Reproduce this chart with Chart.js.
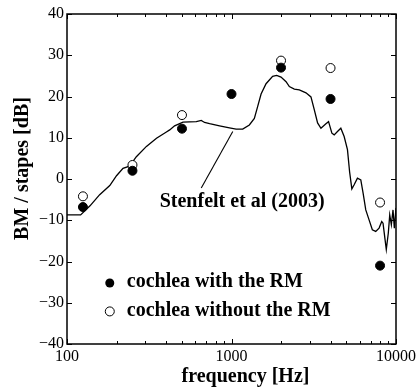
<!DOCTYPE html>
<html><head><meta charset="utf-8">
<script src="https://cdn.jsdelivr.net/npm/chart.js@4.4.0/dist/chart.umd.min.js"></script>
<style>html,body{margin:0;padding:0;background:#fff}</style>
</head><body>
<canvas id="c" width="419" height="389"></canvas>
<script>
// Stenfelt et al (2003) curve
const curveFreq = [100,121,138,158,182,200,219,235,247,264,304,350,402,421,451,507,611,655,686,736,846,972,1067,1170,1284,1377,1443,1513,1622,1778,1882,2000,2146,2247,2410,2583,2836,3041,3185,3337,3497,3750,3890,4076,4210,4408,4619,4840,5069,5225,5390,5566,5829,6110,6310,6550,6860,7180,7530,7890,8190,8340,8580,8730,8980,9160,9370,9590,9770,10000];
const curveVal = [-8.7,-8.7,-6.5,-3.8,-1.6,0.8,2.6,3.0,3.8,5.4,7.9,9.9,11.4,11.9,12.9,13.8,13.9,14.2,13.7,13.4,12.9,12.4,12.1,12.1,13.1,14.7,17.6,20.6,23.1,24.9,25.1,24.7,23.6,22.4,21.8,21.6,20.9,19.9,16.8,13.6,12.3,13.4,13.9,11.1,10.7,11.5,12.3,10.3,7.1,1.7,-2.4,-1.4,0.2,-0.2,-3.4,-7.5,-9.9,-12.3,-12.7,-11.9,-10.3,-10.7,-14.7,-17.1,-13.1,-8.7,-11.1,-7.5,-11.9,-7.0];

// measured points
const withRMFreq = [125,250,500,1000,2000,4000,8000];
const withRMVal = [-6.8,2.0,12.2,20.6,27.0,19.4,-21.0];
const withoutRMFreq = [125,250,500,2000,4000,8000];
const withoutRMVal = [-4.2,3.4,15.5,28.7,26.9,-5.7];

// labels
const legendLabels = ['cochlea with the RM','cochlea without the RM'];
const annotationText = 'Stenfelt et al (2003)';
const xTitle = 'frequency [Hz]';
const yTitle = 'BM / stapes [dB]';

// ticks
const xTickValues = [100,200,300,400,500,600,700,800,900,1000,2000,3000,4000,5000,6000,7000,8000,9000,10000];
const xTickLabels = [100,1000,10000];
const yTickValues = [-40,-30,-20,-10,0,10,20,30,40];

// annotation anchors (data units)
const annLineFrom = [1018, 11.5];
const annLineTo = [655, -2.2];
const annTextAt = [366, -6.7];
const legendAt = [[182, -25.2],[182, -32.1]];
const legendTextFreq = 231;

const serif = "'Liberation Serif', 'Times New Roman', serif";

const toXY = (xs, ys) => xs.map((v,i)=>({x:v, y:ys[i]}));

const deco = {
  id: 'deco',
  afterDraw(chart) {
    const {ctx, chartArea: a, scales: {x, y}} = chart;
    ctx.save();
    ctx.strokeStyle = '#000';
    ctx.lineWidth = 1.5;
    ctx.strokeRect(a.left, a.top, a.right - a.left, a.bottom - a.top);
    ctx.lineWidth = 1;
    ctx.beginPath();
    xTickValues.forEach(v => {
      const px = Math.round(x.getPixelForValue(v)) + 0.5;
      const len = xTickLabels.includes(v) ? 5 : 3;
      ctx.moveTo(px, a.bottom); ctx.lineTo(px, a.bottom - len);
      ctx.moveTo(px, a.top); ctx.lineTo(px, a.top + len);
    });
    yTickValues.forEach(v => {
      const py = Math.round(y.getPixelForValue(v)) + 0.5;
      ctx.moveTo(a.left, py); ctx.lineTo(a.left + 5, py);
      ctx.moveTo(a.right, py); ctx.lineTo(a.right - 5, py);
    });
    ctx.stroke();

    // annotation line + text
    ctx.lineWidth = 1.1;
    ctx.beginPath();
    ctx.moveTo(x.getPixelForValue(annLineFrom[0]), y.getPixelForValue(annLineFrom[1]));
    ctx.lineTo(x.getPixelForValue(annLineTo[0]), y.getPixelForValue(annLineTo[1]));
    ctx.stroke();
    ctx.fillStyle = '#000';
    ctx.font = 'bold 20px ' + serif;
    ctx.textAlign = 'left';
    ctx.textBaseline = 'alphabetic';
    ctx.fillText(annotationText, x.getPixelForValue(annTextAt[0]), y.getPixelForValue(annTextAt[1]));

    // legend
    legendAt.forEach((p, i) => {
      const cx = x.getPixelForValue(p[0]), cy = y.getPixelForValue(p[1]);
      ctx.beginPath();
      ctx.arc(cx, cy, 4.5, 0, Math.PI * 2);
      if (i === 0) { ctx.fillStyle = '#000'; ctx.fill(); }
      else { ctx.fillStyle = '#fff'; ctx.fill(); ctx.lineWidth = 1; ctx.stroke(); }
      ctx.fillStyle = '#000';
      ctx.fillText(legendLabels[i], x.getPixelForValue(legendTextFreq), cy + 4.5);
    });

    // axis titles
    ctx.textAlign = 'center';
    ctx.fillText(xTitle, 245.5, 382);
    ctx.translate(23, 168.5);
    ctx.rotate(-Math.PI / 2);
    ctx.textBaseline = 'middle';
    ctx.fillText(yTitle, 0, 0);
    ctx.restore();
  }
};

new Chart(document.getElementById('c'), {
  type: 'scatter',
  data: {
    datasets: [
      { label: legendLabels[0], data: toXY(withRMFreq, withRMVal), order: 1,
        pointRadius: 4.5, pointHoverRadius: 4.5, backgroundColor: '#000', borderColor: '#000', borderWidth: 1, showLine: false },
      { label: legendLabels[1], data: toXY(withoutRMFreq, withoutRMVal), order: 2,
        pointRadius: 4.5, pointHoverRadius: 4.5, backgroundColor: '#fff', borderColor: '#000', borderWidth: 1, showLine: false },
      { label: annotationText, data: toXY(curveFreq, curveVal), order: 3,
        showLine: true, pointRadius: 0, borderColor: '#000', borderWidth: 1.3, tension: 0, fill: false }
    ]
  },
  options: {
    responsive: false,
    animation: false,
    events: [],
    layout: { padding: { top: 14, right: 22, left: 0, bottom: 0 } },
    plugins: { legend: { display: false }, tooltip: { enabled: false } },
    scales: {
      x: {
        type: 'logarithmic', min: 100, max: 10000, position: 'bottom',
        grid: { display: false, drawTicks: false },
        border: { display: false },
        afterBuildTicks: s => { s.ticks = xTickValues.map(v => ({value: v})); },
        afterFit: s => { s.height = 45; },
        ticks: {
          autoSkip: false, maxRotation: 0, padding: 3, color: '#000',
          font: { family: serif, size: 16 },
          callback: v => xTickLabels.includes(v) ? String(v) : ''
        }
      },
      y: {
        type: 'linear', min: -40, max: 40, position: 'left',
        grid: { display: false, drawTicks: false },
        border: { display: false },
        afterBuildTicks: s => { s.ticks = yTickValues.map(v => ({value: v})); },
        afterFit: s => { s.width = 67; },
        ticks: {
          padding: 3, color: '#000',
          font: { family: serif, size: 16 },
          callback: v => String(v).replace('-', '\u2212')
        }
      }
    }
  },
  plugins: [deco]
});
</script>
</body></html>
